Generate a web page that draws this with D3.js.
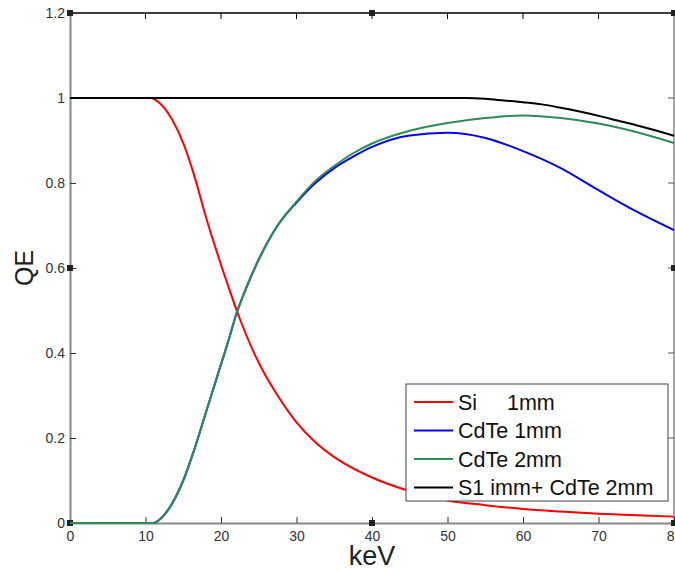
<!DOCTYPE html>
<html>
<head>
<meta charset="utf-8">
<script src="https://cdn.jsdelivr.net/npm/d3@7"></script>
<style>
  body { margin: 0; background: #fff; }
  svg { display: block; font-family: "Liberation Sans", Arial, sans-serif; }
</style>
</head>
<body>
<div id="chart"></div>
<script>
// values (keV, QE)
var siKeV   = [0, 10, 10.6, 12, 13.5, 15, 16.5, 18, 19.5, 21, 22.5, 24, 25.5, 27.5, 30, 32.5, 35, 40, 45, 50, 55, 60, 65, 70, 75, 80]
var siQE    = [1, 1, 1, 0.986, 0.95, 0.894, 0.815, 0.72, 0.635, 0.555, 0.48, 0.415, 0.36, 0.3, 0.237, 0.19, 0.155, 0.107, 0.075, 0.053, 0.042, 0.033, 0.027, 0.022, 0.018, 0.015]

var cd1KeV  = [6, 11, 12, 13.5, 15, 16.5, 18, 19.5, 21, 22, 23.5, 25, 27.5, 30, 32.5, 35, 37.5, 40, 45, 50, 55, 60, 65, 70, 75, 80]
var cd1QE   = [0, 0, 0.01, 0.045, 0.10, 0.175, 0.26, 0.345, 0.43, 0.49, 0.56, 0.62, 0.70, 0.754, 0.80, 0.835, 0.862, 0.885, 0.912, 0.918, 0.906, 0.875, 0.835, 0.783, 0.733, 0.689]

var cd2KeV  = [0, 11, 12, 13.5, 15, 16.5, 18, 19.5, 21, 22, 23.5, 25, 27.5, 30, 32.5, 35, 37.5, 40, 45, 50, 55, 60, 65, 70, 75, 80]
var cd2QE   = [0, 0, 0.01, 0.045, 0.10, 0.175, 0.26, 0.345, 0.43, 0.49, 0.56, 0.62, 0.70, 0.756, 0.805, 0.84, 0.87, 0.893, 0.923, 0.941, 0.953, 0.959, 0.953, 0.94, 0.92, 0.894]

var sumKeV  = [0, 50, 52.5, 55, 57.5, 60, 62.5, 65, 67.5, 70, 72.5, 75, 77.5, 80]
var sumQE   = [1, 1, 1, 0.998, 0.994, 0.99, 0.985, 0.977, 0.968, 0.958, 0.947, 0.936, 0.924, 0.911]

var xTicks = [0, 10, 20, 30, 40, 50, 60, 70, 80]
var yTicks = [0, 0.2, 0.4, 0.6, 0.8, 1, 1.2]

var series = [
  {name: "Si     1mm", color: "#ff0000", kev: siKeV, qe: siQE},
  {name: "CdTe 1mm", color: "#0000ff", kev: cd1KeV, qe: cd1QE},
  {name: "CdTe 2mm", color: "#2e8b57", kev: cd2KeV, qe: cd2QE},
  {name: "S1 imm+ CdTe 2mm", color: "#000000", kev: sumKeV, qe: sumQE}
]

var width = 675, height = 571
// plot box (window.top is reserved, so prefixed names)
var pLeft = 70, pRight = 674, pTop = 13, pBottom = 523

var svg = d3.select("#chart").append("svg")
    .attr("width", width)
    .attr("height", height)

var x = d3.scaleLinear().domain([0, 80]).range([pLeft, pRight])
var y = d3.scaleLinear().domain([0, 1.2]).range([pBottom, pTop])

// frame
svg.append("line").attr("x1", pLeft).attr("x2", pRight).attr("y1", pTop).attr("y2", pTop)
    .attr("stroke", "#000").attr("stroke-width", 1.5)
svg.append("line").attr("x1", pRight).attr("x2", pRight).attr("y1", pTop).attr("y2", pBottom)
    .attr("stroke", "#888").attr("stroke-width", 1.5)

// bottom + left axes (ticks pointing inwards)
var xAxis = svg.append("g")
    .attr("transform", "translate(0," + pBottom + ")")
    .call(d3.axisBottom(x).tickValues(xTicks).tickSizeInner(-6).tickSizeOuter(0).tickPadding(8))
xAxis.select(".domain").attr("stroke", "#888").attr("stroke-width", 2)
xAxis.selectAll(".tick line").attr("stroke", "#333")
xAxis.selectAll("text").attr("font-size", 14).attr("fill", "#333")

var yAxis = svg.append("g")
    .attr("transform", "translate(" + pLeft + ",0)")
    .call(d3.axisLeft(y).tickValues(yTicks).tickSizeInner(-6).tickSizeOuter(0).tickPadding(5)
      .tickFormat(d3.format("~g")))
yAxis.select(".domain").attr("stroke", "#888").attr("stroke-width", 2)
yAxis.selectAll(".tick line").attr("stroke", "#333")
yAxis.selectAll("text").attr("font-size", 14).attr("fill", "#333")

// mirror ticks on top and right
svg.append("g").selectAll("line").data(xTicks.slice(1, -1)).enter().append("line")
    .attr("x1", d => x(d)).attr("x2", d => x(d))
    .attr("y1", pTop).attr("y2", pTop + 6)
    .attr("stroke", "#000")
svg.append("g").selectAll("line").data(yTicks.slice(1, -1)).enter().append("line")
    .attr("x1", pRight).attr("x2", pRight - 6)
    .attr("y1", d => y(d)).attr("y2", d => y(d))
    .attr("stroke", "#555")

// little square markers found on the frame
var markers = [[0, 1.2], [40, 1.2], [80, 1.2], [0, 0.6], [80, 0.6], [0, 0], [40, 0], [80, 0]]
svg.append("g").selectAll("rect").data(markers).enter().append("rect")
    .attr("x", d => x(d[0]) - 3).attr("y", d => y(d[1]) - 3)
    .attr("width", 6).attr("height", 6)
    .attr("fill", "#222")

// curves
var line = d3.line()
    .x(d => x(d[0]))
    .y(d => y(d[1]))
    .curve(d3.curveMonotoneX)

series.forEach(function(s) {
  var pts = s.kev.map((k, i) => [k, s.qe[i]])
  svg.append("path")
      .datum(pts)
      .attr("d", line)
      .attr("fill", "none")
      .attr("stroke", s.color)
      .attr("stroke-width", 2)
})

// axis labels
svg.append("text")
    .attr("x", x(40)).attr("y", 565)
    .attr("text-anchor", "middle")
    .attr("font-size", 27)
    .attr("fill", "#222")
    .text("keV")

svg.append("text")
    .attr("transform", "translate(33," + y(0.6) + ") rotate(-90)")
    .attr("text-anchor", "middle")
    .attr("font-size", 25)
    .attr("fill", "#222")
    .text("QE")

// legend
var lg = svg.append("g")
lg.append("rect")
    .attr("x", 406).attr("y", 384)
    .attr("width", 262).attr("height", 117)
    .attr("fill", "#fff")
    .attr("stroke", "#444")

series.forEach(function(s, i) {
  var ly = 402 + i * 28.5
  lg.append("line")
      .attr("x1", 414).attr("x2", 453)
      .attr("y1", ly).attr("y2", ly)
      .attr("stroke", s.color)
      .attr("stroke-width", 2)
  lg.append("text")
      .attr("x", 458).attr("y", ly + 7.5)
      .attr("font-size", 21.5)
      .attr("fill", "#111")
      .style("white-space", "pre")
      .text(s.name)
})
</script>
</body>
</html>
